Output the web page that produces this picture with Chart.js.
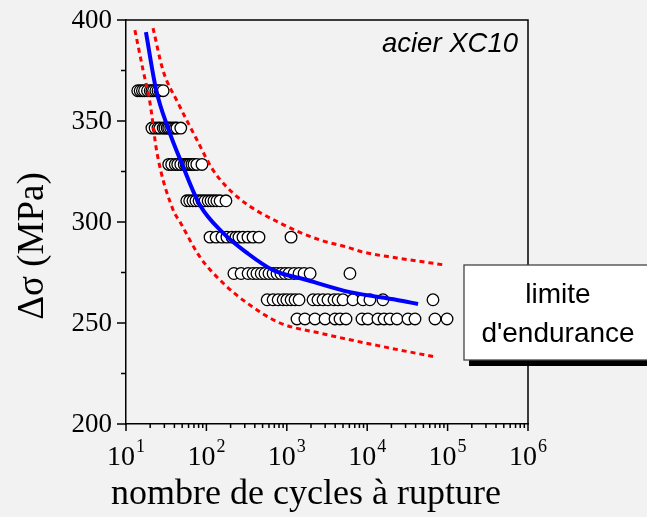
<!DOCTYPE html>
<html><head><meta charset="utf-8">
<script src="https://cdn.jsdelivr.net/npm/chart.js@4.4.0/dist/chart.umd.min.js"></script>
<style>html,body{margin:0;padding:0;background:#f2f2f2;}canvas{display:block;}</style>
</head><body>
<canvas id="c" width="647" height="517" style="width:647px;height:517px"></canvas>
<script>
// ---- data ----
const stressLevels = [365, 346.5, 328.5, 310.5, 292.5, 274.5, 261.5, 252];
const cycles365 = [14, 15, 16, 17, 18.5, 20, 21, 22, 23.5, 25, 26.5, 29];
const cycles346 = [21, 23, 25, 26.5, 29, 30.5, 32.5, 34, 36, 38.5, 41, 43, 48];
const cycles328 = [34, 37, 41, 44, 48, 53, 56, 59, 62, 66, 70, 76, 88];
const cycles310 = [57, 62, 68, 74, 81, 88, 96, 105, 114, 124, 135, 148, 175];
const cycles292 = [111, 132, 156, 180, 208, 233, 254, 285, 329, 380, 451, 1130];
const cycles274 = [220, 270, 330, 380, 425, 480, 535, 600, 675, 755, 845, 950, 1065, 1230, 1420, 1640, 1950, 6100];
const cycles261 = [570, 675, 780, 900, 1000, 1130, 1265, 1420, 2120, 2440, 2820, 3250, 3860, 4340, 5000, 6650, 8870, 10800, 15700, 65800];
const cycles252 = [1340, 1680, 2240, 2990, 3980, 4590, 5450, 8610, 10200, 13600, 16200, 19200, 23500, 32200, 39300, 69700, 98400];
const cycleRows = [cycles365, cycles346, cycles328, cycles310, cycles292, cycles274, cycles261, cycles252];

const fitCycles = [17.7, 23.6, 33.3, 49.8, 83, 161, 320, 673, 1780, 6110, 23500, 42900];
const fitStress = [394, 365.8, 346.5, 328.7, 308.4, 294.6, 284.7, 276.2, 271.3, 265.3, 261.4, 259.4];
const upperCycles = [21.7, 28.8, 44.4, 76.4, 121, 250, 822, 2590, 5610, 8870, 23500, 92900];
const upperStress = [396, 375.2, 358.9, 340.6, 325.7, 312, 299.5, 291.1, 287.6, 285.1, 282.2, 278.7];
const lowerCycles = [12.9, 16.3, 19.9, 24.3, 38.5, 47, 83, 161, 320, 822, 2590, 14400, 69700];
const lowerStress = [395, 375.2, 358.9, 334.2, 306, 300, 282.7, 269.8, 259.9, 250, 245, 238.6, 233.2];

const xTickValues = [1e1, 1e2, 1e3, 1e4, 1e5, 1e6];
const xTickExponents = ['1', '2', '3', '4', '5', '6'];
const yTickValues = [200, 250, 300, 350, 400];
const yTickLabels = ['200', '250', '300', '350', '400'];
const yMinorTickValues = [225, 275, 325, 375];
const xTitle = 'nombre de cycles à rupture';
const yTitle = 'Δσ (MPa)';
const materialLabel = 'acier XC10';
const boxLines = ['limite', "d'endurance"];

// ---- build datasets ----
const pts = (xs, ys) => xs.map((x, i) => ({x: x, y: ys[i]}));
const scatterPoints = [];
cycleRows.forEach((row, i) => row.forEach(n => scatterPoints.push({x: n, y: stressLevels[i]})));

const lineDs = (data, color, width, dash) => ({
  data: data, showLine: true, borderColor: color, borderWidth: width, borderDash: dash,
  pointRadius: 0, cubicInterpolationMode: 'monotone', fill: false, order: 0
});

const SERIF = '"Liberation Serif", "Times New Roman", serif';
const SANS = '"Liberation Sans", Arial, sans-serif';

const decor = {
  id: 'decor',
  afterDraw(chart) {
    const ctx = chart.ctx, a = chart.chartArea;
    const xs = chart.scales.x, ys = chart.scales.y;
    ctx.save();
    ctx.strokeStyle = '#000'; ctx.lineWidth = 1.5;
    // frame top & right
    ctx.beginPath();
    ctx.moveTo(a.left, a.top); ctx.lineTo(a.right, a.top); ctx.lineTo(a.right, a.bottom);
    ctx.stroke();
    // y ticks
    ctx.beginPath();
    yTickValues.forEach(v => { const p = ys.getPixelForValue(v); ctx.moveTo(a.left - 9, p); ctx.lineTo(a.left, p); });
    yMinorTickValues.forEach(v => { const p = ys.getPixelForValue(v); ctx.moveTo(a.left - 5, p); ctx.lineTo(a.left, p); });
    // x ticks
    xTickValues.forEach((v, i) => {
      const p = xs.getPixelForValue(v); ctx.moveTo(p, a.bottom); ctx.lineTo(p, a.bottom + 7);
      if (i < xTickValues.length - 1) {
        for (let k = 2; k <= 9; k++) { const q = xs.getPixelForValue(v * k); ctx.moveTo(q, a.bottom); ctx.lineTo(q, a.bottom + 4); }
      }
    });
    ctx.stroke();
    ctx.fillStyle = '#000';
    // y tick labels
    ctx.font = '27px ' + SERIF; ctx.textAlign = 'right'; ctx.textBaseline = 'middle';
    yTickValues.forEach((v, i) => ctx.fillText(yTickLabels[i], 112, ys.getPixelForValue(v) + 1));
    // x tick labels with superscripts
    ctx.textBaseline = 'alphabetic'; ctx.textAlign = 'left';
    xTickValues.forEach((v, i) => {
      const p = xs.getPixelForValue(v);
      ctx.font = '28px ' + SERIF; const w1 = ctx.measureText('10').width;
      ctx.font = '18px ' + SERIF; const w2 = ctx.measureText(xTickExponents[i]).width;
      const start = p - (w1 + w2 + 1) / 2;
      ctx.font = '28px ' + SERIF; ctx.fillText('10', start, 465);
      ctx.font = '18px ' + SERIF; ctx.fillText(xTickExponents[i], start + w1 + 1, 452);
    });
    // axis titles
    ctx.font = '36px ' + SERIF; ctx.textAlign = 'center';
    ctx.fillText(xTitle, 306, 504);
    ctx.font = '37px ' + SERIF;
    ctx.save(); ctx.translate(43, 246); ctx.rotate(-Math.PI / 2);
    ctx.fillText(yTitle, 0, 0); ctx.restore();
    // material label
    ctx.font = 'italic 27.5px ' + SANS; ctx.textAlign = 'right';
    ctx.fillText(materialLabel, a.right - 10, 52);
    // endurance box
    const bx = 464, by = 265, bw = 200, bh = 95;
    ctx.fillStyle = '#000'; ctx.fillRect(bx + 5, by + bh, bw, 6);
    ctx.fillStyle = '#fff'; ctx.fillRect(bx, by, bw, bh);
    ctx.strokeStyle = '#444'; ctx.lineWidth = 1.3; ctx.strokeRect(bx, by, bw, bh);
    ctx.fillStyle = '#000'; ctx.font = '28px ' + SANS; ctx.textAlign = 'center';
    ctx.fillText(boxLines[0], 558, 303);
    ctx.fillText(boxLines[1], 558, 342);
    ctx.restore();
  }
};

new Chart(document.getElementById('c'), {
  type: 'scatter',
  data: { datasets: [
    lineDs(pts(fitCycles, fitStress), '#0000ff', 4, []),
    lineDs(pts(upperCycles, upperStress), '#ff0000', 3, [5, 4]),
    lineDs(pts(lowerCycles, lowerStress), '#ff0000', 3, [5, 4]),
    { data: scatterPoints, pointRadius: 5.8, pointBackgroundColor: '#fff', pointBorderColor: '#000',
      pointBorderWidth: 1.3, showLine: false, order: 1 }
  ]},
  options: {
    responsive: false, animation: false, devicePixelRatio: 1,
    layout: { padding: { left: 0, top: 20, right: 119, bottom: 0 } },
    plugins: { legend: { display: false }, tooltip: { enabled: false }, title: { display: false } },
    scales: {
      x: { type: 'logarithmic', min: 10, max: 1e6,
        grid: { display: false, drawTicks: false },
        border: { display: true, color: '#000', width: 1.5 },
        ticks: { display: false },
        afterFit: s => { s.height = 93; } },
      y: { type: 'linear', min: 200, max: 400,
        grid: { display: false, drawTicks: false },
        border: { display: true, color: '#000', width: 1.5 },
        ticks: { display: false, stepSize: 50 },
        afterFit: s => { s.width = 126; } }
    }
  },
  plugins: [decor]
});
</script>
</body></html>
